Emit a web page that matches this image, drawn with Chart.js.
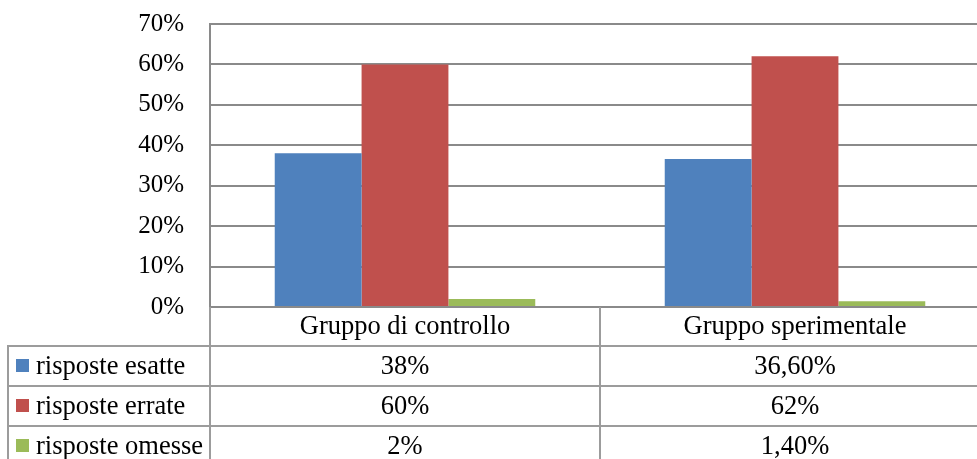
<!DOCTYPE html>
<html>
<head>
<meta charset="utf-8">
<script src="https://cdn.jsdelivr.net/npm/chart.js@4/dist/chart.umd.min.js"></script>
<style>
  html, body { margin: 0; padding: 0; background: #fff; overflow: hidden; }
  #wrap { width: 990px; height: 459px; }
</style>
</head>
<body>
<div id="wrap"><canvas id="c" width="990" height="459"></canvas></div>
<script>
const categories = ['Gruppo di controllo', 'Gruppo sperimentale'];
const seriesNames = ['risposte esatte', 'risposte errate', 'risposte omesse'];
const seriesColors = ['#4F81BD', '#C0504D', '#9BBB59'];
const esatte = [38, 36.6];
const errate = [60, 62];
const omesse = [2, 1.4];
const esatteLabels = ['38%', '36,60%'];
const errateLabels = ['60%', '62%'];
const omesseLabels = ['2%', '1,40%'];
const yTicks = [0, 10, 20, 30, 40, 50, 60, 70];

const seriesValues = [esatte, errate, omesse];
const tableLabels = [esatteLabels, errateLabels, omesseLabels];

const FONT = '"Liberation Serif", "Times New Roman", serif';
const TICK_FS = 25;
const FS = 26.5;

const tablePlugin = {
  id: 'dataTable',
  afterDraw(chart) {
    const ctx = chart.ctx;
    const xs = chart.scales.x;
    const ca = chart.chartArea;
    const top = ca.bottom;
    const headerH = 39;
    const rowH = 40;
    const leftEdge = 8;
    const right = chart.width;
    const bottomEdge = top + headerH + rowH * seriesNames.length + 10;
    const boundary = (xs.getPixelForValue(0) + xs.getPixelForValue(1)) / 2;

    ctx.save();
    ctx.strokeStyle = '#9c9c9c';
    ctx.lineWidth = 2;
    ctx.beginPath();
    ctx.moveTo(ca.left, top); ctx.lineTo(ca.left, bottomEdge);
    ctx.moveTo(boundary, top); ctx.lineTo(boundary, bottomEdge);
    ctx.moveTo(leftEdge, top + headerH); ctx.lineTo(leftEdge, bottomEdge);
    for (let i = 0; i < seriesNames.length; i++) {
      const y = top + headerH + rowH * i;
      ctx.moveTo(leftEdge - 1, y); ctx.lineTo(right, y);
    }
    ctx.stroke();

    ctx.font = FS + 'px ' + FONT;
    ctx.fillStyle = '#000';
    ctx.textBaseline = 'middle';
    ctx.textAlign = 'center';
    categories.forEach((c, i) => {
      ctx.fillText(c, xs.getPixelForValue(i), top + headerH / 2 + 1);
    });
    seriesNames.forEach((name, r) => {
      const cy = top + headerH + rowH * r + rowH / 2;
      ctx.fillStyle = seriesColors[r];
      ctx.fillRect(16, cy - 7, 13, 13);
      ctx.fillStyle = '#000';
      ctx.textAlign = 'left';
      ctx.fillText(name, 36, cy + 1);
      ctx.textAlign = 'center';
      tableLabels[r].forEach((lab, i) => {
        ctx.fillText(lab, xs.getPixelForValue(i), cy + 1);
      });
    });
    ctx.restore();
  }
};

new Chart(document.getElementById('c'), {
  type: 'bar',
  data: {
    labels: categories,
    datasets: seriesNames.map((n, i) => ({
      label: n,
      data: seriesValues[i],
      backgroundColor: seriesColors[i],
      borderWidth: 0,
      barPercentage: 1,
      categoryPercentage: 0.668
    }))
  },
  options: {
    responsive: false,
    animation: false,
    devicePixelRatio: 1,
    layout: { padding: { top: 24, right: 0, bottom: 152, left: 0 } },
    plugins: { legend: { display: false }, tooltip: { enabled: false } },
    scales: {
      x: {
        display: false
      },
      y: {
        min: 0,
        max: 70,
        afterBuildTicks(scale) { scale.ticks = yTicks.map(v => ({ value: v })); },
        afterFit(scale) {
          scale.width = 210;
          scale.paddingTop = 0;
          scale.paddingBottom = 0;
        },
        ticks: {
          callback: v => v + '%',
          color: '#000',
          font: { family: FONT, size: TICK_FS },
          padding: 26
        },
        grid: { color: '#8a8a8a', lineWidth: 2, drawTicks: false },
        border: { color: '#8a8a8a', width: 2 }
      }
    }
  },
  plugins: [tablePlugin]
});
</script>
</body>
</html>
